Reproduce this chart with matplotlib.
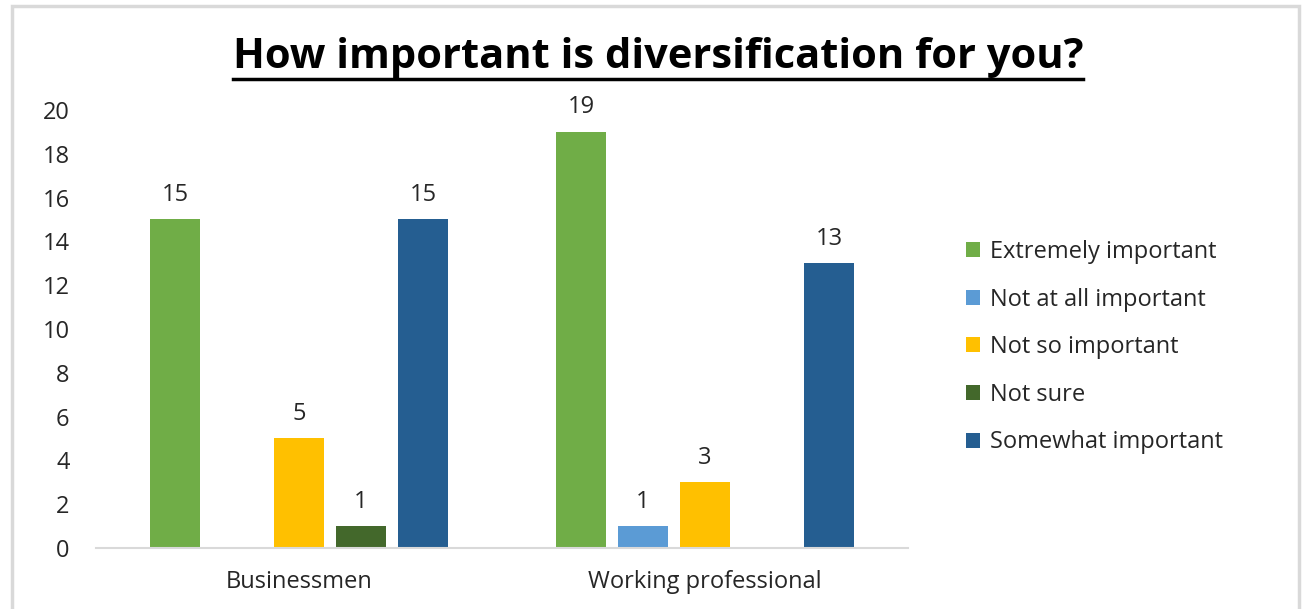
import numpy as np
import matplotlib.pyplot as plt
from matplotlib.lines import Line2D
from matplotlib.patches import Rectangle

plt.rcParams['font.family'] = ['Open Sans', 'DejaVu Sans']

groups = ['Businessmen', 'Working professional']
series = ['Extremely important', 'Not at all important', 'Not so important',
          'Not sure', 'Somewhat important']
values = {
    'Extremely important': [15, 19],
    'Not at all important': [None, 1],
    'Not so important': [5, 3],
    'Not sure': [1, None],
    'Somewhat important': [15, 13],
}
colors = ['#70AD47', '#5B9BD5', '#FFC000', '#43682B', '#255E91']

fig = plt.figure(figsize=(13.06, 6.09), dpi=100)
ax = fig.add_axes([0.0735, 0.1002, 0.6217, 0.7192])

x = np.arange(len(groups))
slot = 0.1527
width = 0.123
for i, (name, col) in enumerate(zip(series, colors)):
    vals = values[name]
    xs = [xi + (i - 2) * slot for xi, v in zip(x, vals) if v is not None]
    ys = [v for v in vals if v is not None]
    bars = ax.bar(xs, ys, width=width, color=col, label=name)
    for b, v in zip(bars, ys):
        ax.annotate(str(v), (b.get_x() + b.get_width() / 2, v),
                    xytext=(0, 9), textcoords='offset points',
                    ha='center', va='bottom', fontsize=17, color='#262626')

ax.set_xlim(-0.5, 1.5)
ax.set_ylim(0, 20)
ax.set_yticks(range(0, 21, 2))
ax.set_xticks(x)
ax.set_xticklabels(groups)
ax.tick_params(axis='both', length=0, labelsize=17, colors='#262626')
ax.tick_params(axis='y', pad=19)
ax.tick_params(axis='x', pad=16)
for s in ['top', 'right', 'left']:
    ax.spines[s].set_visible(False)
ax.spines['bottom'].set_color('#D9D9D9')
ax.spines['bottom'].set_linewidth(1.5)

fig.legend(loc='center left', bbox_to_anchor=(0.7235, 0.43), frameon=False,
           fontsize=17, handlelength=0.6, handleheight=0.6, handletextpad=0.4,
           labelspacing=1.0, labelcolor='#262626')

title = fig.text(0.504, 0.906, 'How important is diversification for you?',
                 ha='center', va='center', fontsize=30, fontweight='bold')

# underline under the title
fig.canvas.draw()
bb = title.get_window_extent().transformed(fig.transFigure.inverted())
fig.add_artist(Line2D([bb.x0, bb.x1], [bb.y0 - 0.002, bb.y0 - 0.002],
                      transform=fig.transFigure, color='black', linewidth=2.5))

# chart frame
fig.add_artist(Rectangle((12 / 1306, -0.05), 1287 / 1306, 1.04 - 6 / 609 + 0.01,
                         transform=fig.transFigure, fill=False,
                         edgecolor='#D9D9D9', linewidth=2.5))

fig.savefig('out.png', dpi=100)
